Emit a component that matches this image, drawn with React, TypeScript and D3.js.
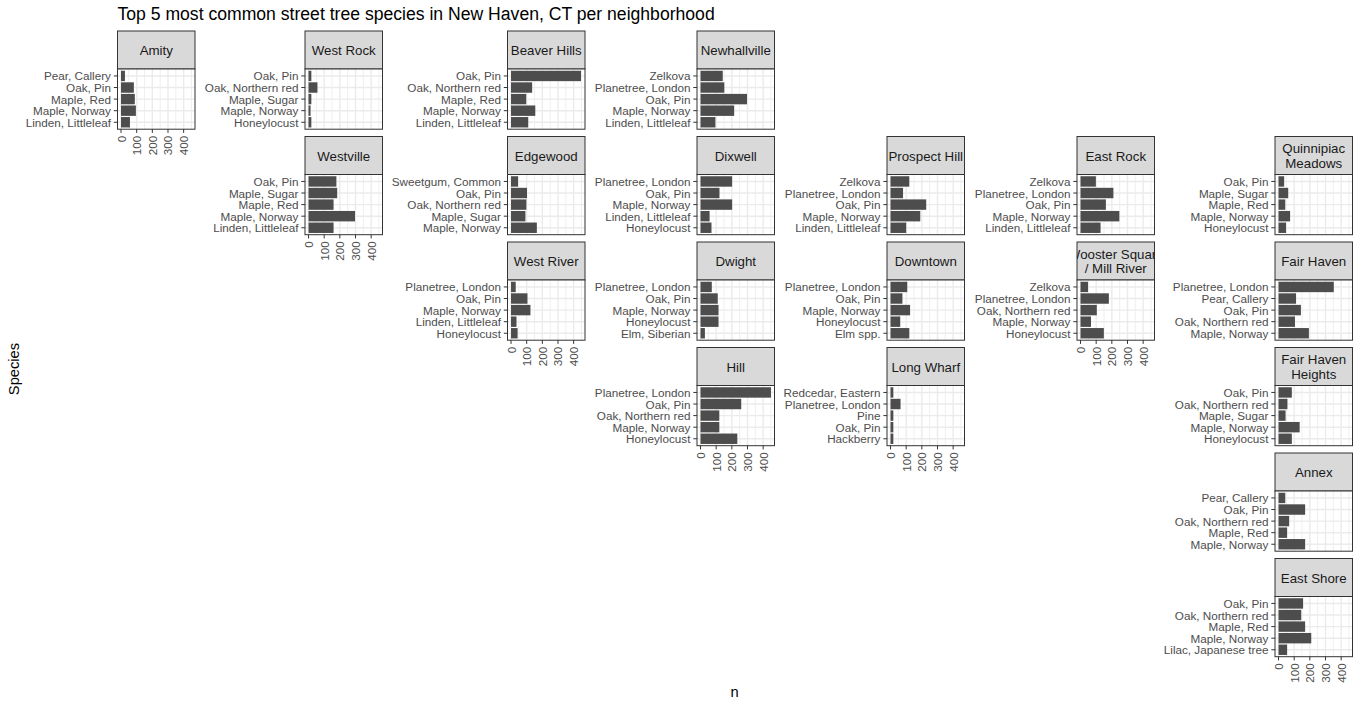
import React from "react";
import * as d3 from "d3";

const WIDTH = 1360;
const HEIGHT = 708;

const title = "Top 5 most common street tree species in New Haven, CT per neighborhood";
const xTitle = "n";
const yTitle = "Species";

// geofacet grid: neighborhood names (strip labels) with their grid row / column
const neighborhoods = [
  "Amity", "West Rock", "Beaver Hills", "Newhallville",
  "Westville", "Edgewood", "Dixwell", "Prospect Hill", "East Rock", "Quinnipiac\nMeadows",
  "West River", "Dwight", "Downtown", "Wooster Square\n/ Mill River", "Fair Haven",
  "Hill", "Long Wharf", "Fair Haven\nHeights",
  "Annex",
  "East Shore",
];
const gridRow = [1, 1, 1, 1, 2, 2, 2, 2, 2, 2, 3, 3, 3, 3, 3, 4, 4, 4, 5, 6];
const gridCol = [1, 2, 3, 4, 2, 3, 4, 5, 6, 7, 3, 4, 5, 6, 7, 4, 5, 7, 7, 7];

// species (top to bottom as drawn) and counts per neighborhood
const amitySpecies = ["Pear, Callery", "Oak, Pin", "Maple, Red", "Maple, Norway", "Linden, Littleleaf"];
const amityN = [25, 82, 88, 95, 57];
const westRockSpecies = ["Oak, Pin", "Oak, Northern red", "Maple, Sugar", "Maple, Norway", "Honeylocust"];
const westRockN = [18, 57, 18, 13, 18];
const beaverHillsSpecies = ["Oak, Pin", "Oak, Northern red", "Maple, Red", "Maple, Norway", "Linden, Littleleaf"];
const beaverHillsN = [447, 135, 97, 155, 110];
const newhallvilleSpecies = ["Zelkova", "Planetree, London", "Oak, Pin", "Maple, Norway", "Linden, Littleleaf"];
const newhallvilleN = [142, 152, 297, 215, 95];
const westvilleSpecies = ["Oak, Pin", "Maple, Sugar", "Maple, Red", "Maple, Norway", "Linden, Littleleaf"];
const westvilleN = [178, 183, 160, 297, 160];
const edgewoodSpecies = ["Sweetgum, Common", "Oak, Pin", "Oak, Northern red", "Maple, Sugar", "Maple, Norway"];
const edgewoodN = [45, 102, 98, 92, 165];
const dixwellSpecies = ["Planetree, London", "Oak, Pin", "Maple, Norway", "Linden, Littleleaf", "Honeylocust"];
const dixwellN = [202, 121, 202, 58, 70];
const prospectHillSpecies = ["Zelkova", "Planetree, London", "Oak, Pin", "Maple, Norway", "Linden, Littleleaf"];
const prospectHillN = [120, 80, 228, 190, 100];
const eastRockSpecies = ["Zelkova", "Planetree, London", "Oak, Pin", "Maple, Norway", "Linden, Littleleaf"];
const eastRockN = [98, 210, 162, 248, 128];
const quinnipiacSpecies = ["Oak, Pin", "Maple, Sugar", "Maple, Red", "Maple, Norway", "Honeylocust"];
const quinnipiacN = [36, 62, 43, 74, 48];
const westRiverSpecies = ["Planetree, London", "Oak, Pin", "Maple, Norway", "Linden, Littleleaf", "Honeylocust"];
const westRiverN = [30, 105, 124, 35, 42];
const dwightSpecies = ["Planetree, London", "Oak, Pin", "Maple, Norway", "Honeylocust", "Elm, Siberian"];
const dwightN = [72, 110, 115, 115, 28];
const downtownSpecies = ["Planetree, London", "Oak, Pin", "Maple, Norway", "Honeylocust", "Elm spp."];
const downtownN = [107, 76, 125, 62, 120];
const woosterSpecies = ["Zelkova", "Planetree, London", "Oak, Northern red", "Maple, Norway", "Honeylocust"];
const woosterN = [48, 181, 104, 67, 149];
const fairHavenSpecies = ["Planetree, London", "Pear, Callery", "Oak, Pin", "Oak, Northern red", "Maple, Norway"];
const fairHavenN = [353, 112, 143, 105, 194];
const hillSpecies = ["Planetree, London", "Oak, Pin", "Oak, Northern red", "Maple, Norway", "Honeylocust"];
const hillN = [450, 260, 120, 120, 235];
const longWharfSpecies = ["Redcedar, Eastern", "Planetree, London", "Pine", "Oak, Pin", "Hackberry"];
const longWharfN = [18, 64, 18, 18, 18];
const fairHavenHeightsSpecies = ["Oak, Pin", "Oak, Northern red", "Maple, Sugar", "Maple, Norway", "Honeylocust"];
const fairHavenHeightsN = [85, 57, 45, 135, 85];
const annexSpecies = ["Pear, Callery", "Oak, Pin", "Oak, Northern red", "Maple, Red", "Maple, Norway"];
const annexN = [43, 170, 68, 55, 170];
const eastShoreSpecies = ["Oak, Pin", "Oak, Northern red", "Maple, Red", "Maple, Norway", "Lilac, Japanese tree"];
const eastShoreN = [157, 145, 170, 209, 55];

const speciesLists = [
  amitySpecies, westRockSpecies, beaverHillsSpecies, newhallvilleSpecies,
  westvilleSpecies, edgewoodSpecies, dixwellSpecies, prospectHillSpecies, eastRockSpecies, quinnipiacSpecies,
  westRiverSpecies, dwightSpecies, downtownSpecies, woosterSpecies, fairHavenSpecies,
  hillSpecies, longWharfSpecies, fairHavenHeightsSpecies,
  annexSpecies,
  eastShoreSpecies,
];
const countLists = [
  amityN, westRockN, beaverHillsN, newhallvilleN,
  westvilleN, edgewoodN, dixwellN, prospectHillN, eastRockN, quinnipiacN,
  westRiverN, dwightN, downtownN, woosterN, fairHavenN,
  hillN, longWharfN, fairHavenHeightsN,
  annexN,
  eastShoreN,
];

const majorTicks = [0, 100, 200, 300, 400];
const minorTicks = [50, 150, 250, 350, 450];

// layout
const FONT = "'Liberation Sans', Arial, Helvetica, sans-serif";
const colLeft = [117.5, 305, 507.5, 697, 887, 1077, 1275];
const PANEL_W = 77.5;
const TOP0 = 31;
const STRIP_H = 38;
const PANEL_H = 60.2;
const ROW_GAP = 7.3;
const TICK = 3.7;
const TICK_PAD = 2.9;

export default function App() {
  const maxN = d3.max(countLists.flat()) as number;
  const occupied = new Set(neighborhoods.map((_, i) => `${gridRow[i]}-${gridCol[i]}`));

  const panels = neighborhoods.map((name, i) => {
    const row = gridRow[i];
    const col = gridCol[i];
    const left = colLeft[col - 1];
    const stripTop = TOP0 + (row - 1) * (STRIP_H + PANEL_H + ROW_GAP);
    const pTop = stripTop + STRIP_H;
    const pBottom = pTop + PANEL_H;
    const species = speciesLists[i];
    const counts = countLists[i];
    const x = d3.scaleLinear().domain([-0.05 * maxN, 1.05 * maxN]).range([left, left + PANEL_W]);
    const y = d3.scaleLinear().domain([-0.6, species.length - 0.4]).range([pTop, pBottom]);
    const unit = PANEL_H / (species.length + 0.2);
    const barH = 0.9 * unit;
    const hasAxis = !occupied.has(`${row + 1}-${col}`);
    const lines = name.split("\n");
    const clipId = `strip-clip-${i}`;
    const stripMid = stripTop + STRIP_H / 2;
    const lineH = 14.2;

    return (
      <g key={name}>
        <defs>
          <clipPath id={clipId}>
            <rect x={left} y={stripTop} width={PANEL_W} height={STRIP_H} />
          </clipPath>
        </defs>
        {/* strip */}
        <rect x={left} y={stripTop} width={PANEL_W} height={STRIP_H} fill="#D9D9D9" stroke="#333333" strokeWidth={1} />
        <text
          clipPath={`url(#${clipId})`}
          x={left + PANEL_W / 2}
          y={stripMid - ((lines.length - 1) * lineH) / 2}
          textAnchor="middle"
          dominantBaseline="central"
          fontFamily={FONT}
          fontSize={13.3}
          fill="#1A1A1A"
        >
          {lines.map((l, k) => (
            <tspan key={k} x={left + PANEL_W / 2} dy={k === 0 ? 0 : lineH}>
              {l}
            </tspan>
          ))}
        </text>
        {/* panel */}
        <rect x={left} y={pTop} width={PANEL_W} height={PANEL_H} fill="white" />
        {minorTicks.map((t) => (
          <line key={`mi${t}`} x1={x(t)} x2={x(t)} y1={pTop} y2={pBottom} stroke="#EBEBEB" strokeWidth={0.8} />
        ))}
        {majorTicks.map((t) => (
          <line key={`ma${t}`} x1={x(t)} x2={x(t)} y1={pTop} y2={pBottom} stroke="#EBEBEB" strokeWidth={1.4} />
        ))}
        {species.map((s, k) => (
          <line key={`hg${k}`} x1={left} x2={left + PANEL_W} y1={y(k)} y2={y(k)} stroke="#EBEBEB" strokeWidth={1.4} />
        ))}
        {species.map((s, k) => (
          <rect
            key={`bar${k}`}
            x={x(0)}
            y={y(k) - barH / 2}
            width={x(counts[k]) - x(0)}
            height={barH}
            fill="#4D4D4D"
          />
        ))}
        <rect x={left} y={pTop} width={PANEL_W} height={PANEL_H} fill="none" stroke="#333333" strokeWidth={1} />
        {/* y axis */}
        {species.map((s, k) => (
          <g key={`yt${k}`}>
            <line x1={left - TICK} x2={left} y1={y(k)} y2={y(k)} stroke="#333333" strokeWidth={1} />
            <text
              x={left - TICK - TICK_PAD}
              y={y(k)}
              textAnchor="end"
              dominantBaseline="central"
              fontFamily={FONT}
              fontSize={11.7}
              fill="#4D4D4D"
            >
              {s}
            </text>
          </g>
        ))}
        {/* x axis */}
        {hasAxis &&
          majorTicks.map((t) => (
            <g key={`xt${t}`}>
              <line x1={x(t)} x2={x(t)} y1={pBottom} y2={pBottom + TICK} stroke="#333333" strokeWidth={1} />
              <text
                transform={`translate(${x(t)},${pBottom + TICK + TICK_PAD}) rotate(-90)`}
                textAnchor="end"
                dominantBaseline="central"
                fontFamily={FONT}
                fontSize={11.7}
                fill="#4D4D4D"
              >
                {t}
              </text>
            </g>
          ))}
      </g>
    );
  });

  return (
    <svg
      width={WIDTH}
      height={HEIGHT}
      style={{ position: "absolute", left: 0, top: 0, display: "block", background: "white" }}
    >
      <rect x={0} y={0} width={WIDTH} height={HEIGHT} fill="white" />
      <text x={117.5} y={20} fontFamily={FONT} fontSize={17.6} fill="#000000">
        {title}
      </text>
      {panels}
      <text x={734.5} y={692} textAnchor="middle" dominantBaseline="central" fontFamily={FONT} fontSize={14.7} fill="#000000">
        {xTitle}
      </text>
      <text
        transform={`translate(14,369) rotate(-90)`}
        textAnchor="middle"
        dominantBaseline="central"
        fontFamily={FONT}
        fontSize={14.7}
        fill="#000000"
      >
        {yTitle}
      </text>
    </svg>
  );
}
